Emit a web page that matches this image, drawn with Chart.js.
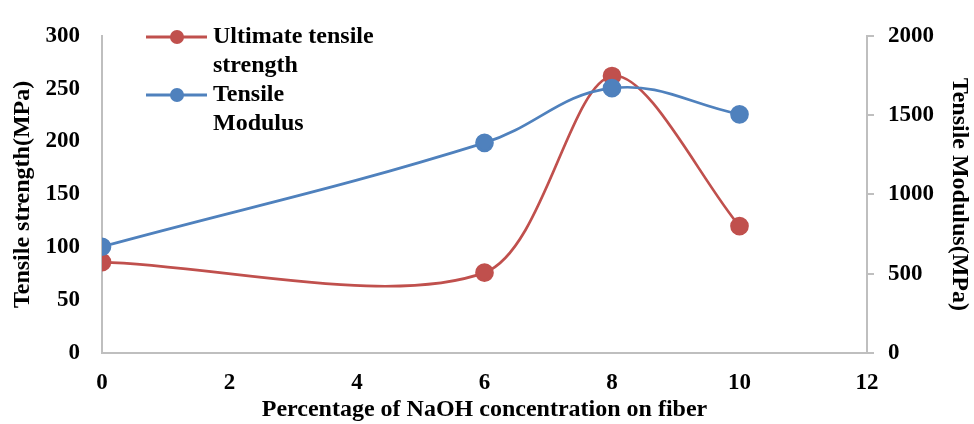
<!DOCTYPE html>
<html>
<head>
<meta charset="utf-8">
<script src="https://cdn.jsdelivr.net/npm/chart.js@4"></script>
<style>
  html, body { margin: 0; padding: 0; background: #fff; }
  #wrap { width: 974px; height: 424px; position: relative; }
</style>
</head>
<body>
<div id="wrap"><canvas id="c" width="974" height="424"></canvas></div>
<script>
const naohConcentration = [0, 6, 8, 10];
const tensileStrength = [86, 76, 262, 120];
const tensileModulus = [670, 1325, 1670, 1505];
const xTicks = [0, 2, 4, 6, 8, 10, 12];
const leftTicks = [0, 50, 100, 150, 200, 250, 300];
const rightTicks = [0, 500, 1000, 1500, 2000];
const seriesNames = [["Ultimate tensile", "strength"], ["Tensile", "Modulus"]];
const xTitle = "Percentage of NaOH concentration on fiber";
const leftTitle = "Tensile strength(MPa)";
const rightTitle = "Tensile Modulus(MPa)";

const RED = "#C0504D";
const BLUE = "#4F81BD";
const AXIS = "#bfbfbf";
const FAMILY = "'Liberation Serif', 'Times New Roman', serif";

const legendPlugin = {
  id: "customLegend",
  afterDatasetsDraw(chart) {
    const ctx = chart.ctx;
    const items = [
      { color: RED, y: 37, lines: seriesNames[0] },
      { color: BLUE, y: 95, lines: seriesNames[1] }
    ];
    ctx.save();
    items.forEach(it => {
      ctx.strokeStyle = it.color;
      ctx.lineWidth = 3;
      ctx.beginPath();
      ctx.moveTo(146, it.y);
      ctx.lineTo(207, it.y);
      ctx.stroke();
      ctx.fillStyle = it.color;
      ctx.beginPath();
      ctx.arc(177, it.y, 7, 0, Math.PI * 2);
      ctx.fill();
      ctx.fillStyle = "#000";
      ctx.font = "bold 24px " + FAMILY;
      ctx.textBaseline = "middle";
      ctx.textAlign = "left";
      it.lines.forEach((t, i) => ctx.fillText(t, 213, it.y + i * 29));
    });
    ctx.restore();
  }
};

const tickFont = { family: FAMILY, size: 23, weight: "bold" };
const titleFont = { family: FAMILY, size: 24, weight: "bold" };
const plain = v => String(v);

new Chart(document.getElementById("c"), {
  type: "line",
  data: {
    datasets: [
      {
        label: seriesNames[0].join(" "),
        data: naohConcentration.map((x, i) => ({ x: x, y: tensileStrength[i] })),
        borderColor: RED,
        backgroundColor: RED,
        pointBackgroundColor: RED,
        pointBorderColor: RED,
        borderWidth: 2.7,
        pointRadius: 8,
        tension: 0.3,
        order: 1,
        yAxisID: "y"
      },
      {
        label: seriesNames[1].join(" "),
        data: naohConcentration.map((x, i) => ({ x: x, y: tensileModulus[i] })),
        borderColor: BLUE,
        backgroundColor: BLUE,
        pointBackgroundColor: BLUE,
        pointBorderColor: BLUE,
        borderWidth: 2.7,
        pointRadius: 8,
        tension: 0.4,
        order: 0,
        yAxisID: "y1"
      }
    ]
  },
  options: {
    responsive: false,
    animation: false,
    devicePixelRatio: 1,
    layout: { padding: { top: 22, right: 0, left: 0, bottom: 0 } },
    plugins: { legend: { display: false }, tooltip: { enabled: false } },
    scales: {
      x: {
        type: "linear",
        min: 0, max: 12,
        afterBuildTicks: s => { s.ticks = xTicks.map(v => ({ value: v })); },
        afterFit: s => { s.height = 71; },
        grid: { display: true, drawOnChartArea: false, drawTicks: false, color: AXIS },
        border: { display: true, color: AXIS, width: 2 },
        ticks: { color: "#000", font: tickFont, padding: 16, maxRotation: 0, callback: plain },
        title: { display: true, text: xTitle, color: "#000", font: titleFont, padding: { top: 0, bottom: 0 } }
      },
      y: {
        position: "left",
        min: 0, max: 300,
        afterBuildTicks: s => { s.ticks = leftTicks.map(v => ({ value: v })); },
        afterFit: s => { s.width = 102; },
        grid: { display: true, drawOnChartArea: false, drawTicks: false, color: AXIS },
        border: { display: true, color: AXIS, width: 2 },
        ticks: { color: "#000", font: tickFont, padding: 22, callback: plain },
        title: { display: true, text: leftTitle, color: "#000", font: titleFont, padding: { top: 8, bottom: 0 } }
      },
      y1: {
        position: "right",
        min: 0, max: 2000,
        afterBuildTicks: s => { s.ticks = rightTicks.map(v => ({ value: v })); },
        afterFit: s => { s.width = 107; },
        grid: { display: true, drawOnChartArea: false, drawTicks: true, tickLength: 7, color: AXIS, lineWidth: 2 },
        border: { display: true, color: AXIS, width: 2 },
        ticks: { color: "#000", font: tickFont, padding: 14, callback: plain },
        title: { display: true, text: rightTitle, color: "#000", font: titleFont, padding: { top: 0, bottom: 0 } }
      }
    }
  },
  plugins: [legendPlugin]
});
</script>
</body>
</html>
